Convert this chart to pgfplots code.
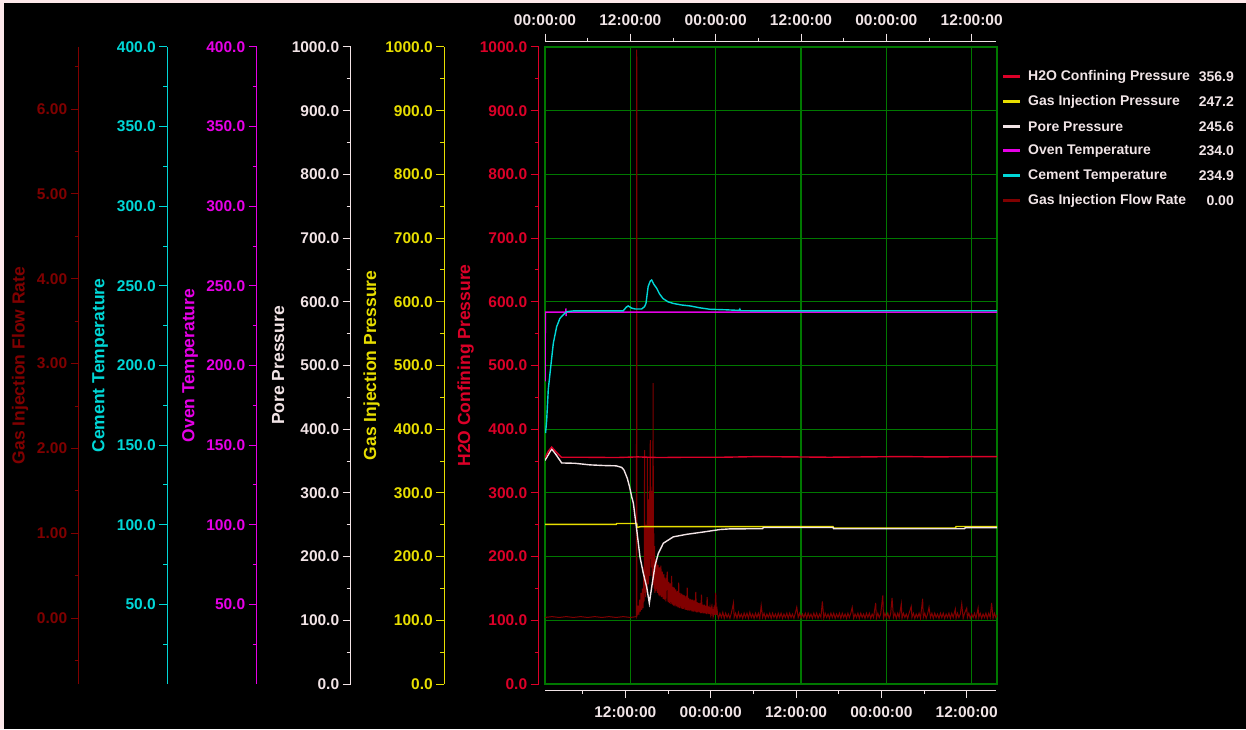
\documentclass[border=0pt]{standalone}
\usepackage{fontspec}
\setmainfont{Liberation Sans}
\usepackage{pgfplots}
\pgfplotsset{compat=1.18}
\definecolor{bgpink}{RGB}{253,232,234}
\definecolor{gridgreen}{RGB}{0,120,0}
\definecolor{flowc}{RGB}{128,0,0}
\definecolor{cementc}{RGB}{0,215,215}
\definecolor{ovenc}{RGB}{230,0,230}
\definecolor{porec}{RGB}{242,228,230}
\definecolor{gasc}{RGB}{232,222,0}
\definecolor{h2oc}{RGB}{220,0,40}
\definecolor{txtc}{RGB}{240,228,230}
\newcommand{\tickfont}{\fontsize{15.5}{18}\selectfont\bfseries}
\newcommand{\labfont}{\fontsize{17.5}{20}\selectfont\bfseries}
\newcommand{\legfont}{\fontsize{14}{16}\selectfont\bfseries}
\pgfplotsset{
  leftax/.style n args={3}{
    scale only axis, width=20pt, height=637pt, at={(#1,45pt)}, anchor=south west,
    xmin=0, xmax=1,
    axis x line=none, axis y line=left,
    axis line style={-, draw=#2, line width=1pt},
    tick align=outside, major tick length=8pt, minor tick length=4pt,
    tick style={draw=#2, line width=1pt},
    yticklabel style={text=#2, font=\tickfont},
    every axis y label/.style={at={([xshift=#3]rel axis cs:0,0.5)}, rotate=90, anchor=center, font=\labfont, text=#2},
  },
  serax/.style={scale only axis, width=452pt, height=637pt, at={(545pt,45pt)}, anchor=south west,
    xmin=0, xmax=63.56, hide axis, clip=true},
}
\begin{document}
\begin{tikzpicture}
\useasboundingbox (0,0) rectangle (1246pt,729pt);
\fill[bgpink] (0,0) rectangle (1246pt,729pt);
\fill[black] (4pt,0) rectangle (1246pt,726pt);

% ---- left scales ----
\begin{axis}[leftax={78.7pt}{flowc}{-58.7pt}, ymin=-0.774, ymax=6.731,
  ytick={0,1,2,3,4,5,6}, yticklabels={0.00,1.00,2.00,3.00,4.00,5.00,6.00},
  minor ytick={-0.5,0.5,1.5,2.5,3.5,4.5,5.5,6.5}, ylabel={Gas Injection Flow Rate}]
\end{axis}
\begin{axis}[leftax={167.3pt}{cementc}{-67.3pt}, ymin=0, ymax=400,
  ytick={50,100,...,400}, yticklabels={50.0,100.0,150.0,200.0,250.0,300.0,350.0,400.0},
  minor ytick={25,75,...,375}, ylabel={Cement Temperature}]
\end{axis}
\begin{axis}[leftax={256.7pt}{ovenc}{-66.7pt}, ymin=0, ymax=400,
  ytick={50,100,...,400}, yticklabels={50.0,100.0,150.0,200.0,250.0,300.0,350.0,400.0},
  minor ytick={25,75,...,375}, ylabel={Oven Temperature}]
\end{axis}
\begin{axis}[leftax={350.7pt}{porec}{-72.4pt}, ymin=0, ymax=1000,
  ytick={0,100,...,1000}, yticklabels={0.0,100.0,200.0,300.0,400.0,500.0,600.0,700.0,800.0,900.0,1000.0},
  minor ytick={50,150,...,950}, ylabel={Pore Pressure}]
\end{axis}
\begin{axis}[leftax={444.3pt}{gasc}{-72.6pt}, ymin=0, ymax=1000,
  ytick={0,100,...,1000}, yticklabels={0.0,100.0,200.0,300.0,400.0,500.0,600.0,700.0,800.0,900.0,1000.0},
  minor ytick={50,150,...,950}, ylabel={Gas Injection Pressure}]
\end{axis}
\begin{axis}[leftax={538.7pt}{h2oc}{-73pt}, ymin=0, ymax=1000,
  ytick={0,100,...,1000}, yticklabels={0.0,100.0,200.0,300.0,400.0,500.0,600.0,700.0,800.0,900.0,1000.0},
  minor ytick={50,150,...,950}, ylabel={H2O Confining Pressure}]
\end{axis}

% ---- time axes ----
\begin{axis}[scale only axis, width=451pt, height=1pt, at={(545pt,687.3pt)}, anchor=north west,
  xmin=0, xmax=63.42, ymin=0, ymax=1, axis y line=none, axis x line=top,
  axis line style={-, draw=txtc, line width=1pt},
  tick align=outside, major tick length=8pt, minor tick length=4pt,
  tick style={draw=txtc, line width=1pt},
  xtick={0,12,24,36,48,60}, minor xtick={6,18,30,42,54},
  xticklabels={00:00:00,12:00:00,00:00:00,12:00:00,00:00:00,12:00:00},
  xticklabel style={text=txtc, font=\tickfont, yshift=5pt}]
\end{axis}
\begin{axis}[scale only axis, width=451pt, height=1pt, at={(545pt,39pt)}, anchor=south west,
  xmin=0.703, xmax=64.12, ymin=0, ymax=1, axis y line=none, axis x line=bottom,
  axis line style={-, draw=txtc, line width=1pt},
  tick align=outside, major tick length=8pt, minor tick length=4pt,
  tick style={draw=txtc, line width=1pt},
  xtick={12,24,36,48,60}, minor xtick={6,18,30,42,54},
  xticklabels={12:00:00,00:00:00,12:00:00,00:00:00,12:00:00},
  xticklabel style={text=txtc, font=\tickfont, yshift=-5pt}]
\end{axis}

% ---- main grid ----
\begin{axis}[scale only axis, width=452pt, height=637pt, at={(545pt,45pt)}, anchor=south west,
  xmin=0, xmax=63.56, ymin=0, ymax=1000,
  xtick={12,24,36,48,60}, ytick={100,200,...,900}, xticklabels={}, yticklabels={},
  major tick length=0pt, grid=major, grid style={draw=gridgreen, line width=1.1pt},
  axis line style={draw=gridgreen, line width=1.1pt}]
\end{axis}

% ---- flow rate ----
\begin{axis}[serax, ymin=-0.774, ymax=6.731]
\addplot[flowc, line width=1pt] coordinates {
(0,0.01)(1,0.02)(2,0.01)(3,0.02)(4,0.01)(5,0.02)(6,0.01)(7,0.02)(8,0.01)(9,0.02)(10,0.01)(11,0.02)(12,0.01)(12.85,0.02)
(12.9,6.70)(12.93,0.03)
(13.0,0.05)(13.1,0.15)(13.2,0.04)(13.3,0.22)(13.4,0.08)(13.5,0.30)(13.6,0.10)(13.7,0.35)(13.8,0.12)
(13.9,0.6)(13.95,0.2)(14.0,1.98)(14.05,0.3)(14.1,0.9)(14.15,0.25)(14.2,1.1)(14.25,0.4)(14.3,1.0)(14.35,0.3)
(14.4,1.89)(14.45,0.5)(14.5,1.2)(14.55,0.4)(14.6,1.4)(14.65,0.6)(14.7,1.5)(14.75,0.5)(14.8,2.10)(14.85,0.7)
(14.9,1.55)(14.95,0.6)(15.0,1.5)(15.05,0.5)(15.1,1.3)(15.15,0.45)(15.2,2.77)(15.25,0.4)(15.3,1.0)(15.35,0.35)
(15.4,0.85)(15.45,0.3)
(15.5,0.70)(15.6,0.32)(15.7,0.68)(15.8,0.30)(15.9,0.63)(16.0,0.27)(16.1,0.60)(16.2,0.26)(16.3,0.62)(16.4,0.25)
(16.5,0.55)(16.6,0.23)(16.7,0.52)(16.8,0.22)(16.9,0.48)(17.0,0.20)(17.1,0.46)(17.2,0.55)(17.3,0.19)(17.4,0.43)
(17.5,0.18)(17.6,0.41)(17.7,0.17)(17.8,0.50)(17.9,0.16)(18.0,0.37)(18.1,0.15)(18.2,0.36)(18.3,0.14)(18.4,0.34)
(18.5,0.14)(18.6,0.32)(18.7,0.13)(18.8,0.42)(18.9,0.12)(19.0,0.30)(19.1,0.12)(19.2,0.29)(19.3,0.11)(19.4,0.28)
(19.5,0.11)(19.6,0.27)(19.7,0.10)(19.8,0.26)(19.9,0.10)(20.0,0.36)(20.1,0.09)(20.2,0.24)(20.3,0.09)(20.4,0.23)
(20.5,0.09)(20.6,0.22)(20.7,0.08)(20.8,0.22)(20.9,0.08)(21.0,0.21)(21.1,0.08)(21.2,0.31)(21.3,0.07)(21.4,0.19)
(21.5,0.07)(21.6,0.18)(21.7,0.07)(21.8,0.18)(21.9,0.06)(22.0,0.28)(22.1,0.06)(22.2,0.16)(22.3,0.06)(22.4,0.16)
(22.5,0.06)(22.6,0.15)(22.7,0.05)(22.8,0.25)(22.9,0.05)(23.0,0.14)(23.1,0.05)(23.2,0.13)(23.3,0.05)(23.4,0.12)
(23.5,0.04)(23.6,0.12)(23.7,0.04)(23.8,0.11)(23.9,0.04)(24.0,0.30)(24.1,0.04)(24.2,0.10)(24.3,0.03)
(24.4,0.00)(24.6,0.06)(24.8,0.01)(25.0,0.07)(25.2,0.00)(25.4,0.06)(25.6,0.01)(25.8,0.05)(26.0,0.00)(26.2,0.06)
(26.5,0.18)(26.6,0.01)(26.8,0.06)(27.0,0.00)(27.2,0.07)(27.4,0.01)(27.6,0.05)(27.8,0.00)(28.0,0.06)(28.2,0.01)
(28.4,0.06)(28.6,0.00)(28.8,0.07)(29.0,0.01)(29.2,0.05)(29.4,0.00)(29.6,0.06)(29.8,0.01)(30.0,0.06)(30.2,0.00)
(30.4,0.15)(30.6,0.01)(30.8,0.06)(31.0,0.00)(31.2,0.05)(31.4,0.01)(31.6,0.06)(31.8,0.00)(32.0,0.06)(32.2,0.01)
(32.4,0.05)(32.6,0.00)(32.8,0.06)(33.0,0.01)(33.2,0.06)(33.4,0.00)(33.6,0.05)(33.8,0.01)(34.0,0.06)(34.2,0.00)
(34.4,0.06)(34.6,0.01)(34.8,0.05)(35.0,0.00)(35.2,0.06)(35.4,0.13)(35.6,0.01)(35.8,0.06)(36.0,0.00)(36.2,0.05)
(36.4,0.01)(36.6,0.06)(36.8,0.00)(37.0,0.06)(37.2,0.01)(37.4,0.05)(37.6,0.00)(37.8,0.06)(38.0,0.01)(38.2,0.06)
(38.4,0.00)(38.6,0.05)(38.8,0.01)(39.0,0.20)(39.2,0.00)(39.4,0.06)(39.6,0.01)(39.8,0.05)(40.0,0.00)(40.2,0.06)
(40.4,0.01)(40.6,0.06)(40.8,0.00)(41.0,0.05)(41.2,0.01)(41.4,0.06)(41.6,0.00)(41.8,0.06)(42.0,0.01)(42.2,0.05)
(42.4,0.00)(42.6,0.06)(42.8,0.01)(43.0,0.06)(43.2,0.13)(43.4,0.00)(43.6,0.05)(43.8,0.01)(44.0,0.06)(44.2,0.00)
(44.4,0.06)(44.6,0.01)(44.8,0.05)(45.0,0.00)(45.2,0.06)(45.4,0.01)(45.6,0.06)(45.8,0.00)(46.0,0.05)(46.2,0.01)
(46.5,0.18)(46.6,0.00)(46.8,0.06)(47.0,0.01)(47.2,0.05)(47.5,0.27)(47.6,0.00)(47.8,0.06)(48.0,0.01)(48.2,0.06)
(48.4,0.00)(48.6,0.05)(48.8,0.24)(49.0,0.01)(49.2,0.06)(49.4,0.00)(49.6,0.06)(49.8,0.01)(50.1,0.17)(50.2,0.00)
(50.4,0.06)(50.6,0.01)(50.8,0.05)(51.0,0.00)(51.2,0.06)(51.5,0.14)(51.6,0.01)(51.8,0.06)(52.0,0.00)(52.2,0.05)
(52.4,0.01)(52.6,0.06)(52.8,0.00)(53.1,0.23)(53.2,0.01)(53.4,0.06)(53.6,0.00)(53.8,0.05)(54.0,0.13)(54.2,0.01)
(54.4,0.06)(54.6,0.00)(54.8,0.06)(55.0,0.01)(55.2,0.05)(55.4,0.00)(55.6,0.06)(55.8,0.01)(56.0,0.06)(56.2,0.00)
(56.4,0.05)(56.6,0.01)(56.8,0.06)(57.0,0.00)(57.2,0.06)(57.4,0.01)(57.7,0.11)(57.8,0.00)(58.0,0.06)(58.2,0.01)
(58.4,0.05)(58.6,0.17)(58.8,0.00)(59.0,0.06)(59.3,0.12)(59.4,0.01)(59.6,0.06)(59.8,0.00)(60.0,0.05)(60.2,0.01)
(60.4,0.06)(60.6,0.00)(60.9,0.12)(61.0,0.01)(61.2,0.06)(61.4,0.00)(61.6,0.05)(61.8,0.01)(62.0,0.06)(62.2,0.00)
(62.4,0.06)(62.6,0.01)(62.8,0.18)(63.0,0.00)(63.2,0.06)(63.4,0.01)(63.56,0.04)
};
\end{axis}

% ---- temperatures ----
\begin{axis}[serax, ymin=0, ymax=400]
\addplot[ovenc, line width=1.4pt] coordinates {
(0.02,190)(0.05,233.5)(2.90,233.5)(2.95,235.8)(2.97,231)(3.0,233.5)(63.56,233.5)
};
\addplot[cementc, line width=1.4pt] coordinates {
(0.08,157.6)(0.24,166)(0.46,185)(0.80,199)(1.17,214)(1.64,224.4)(2.1,229.6)(2.6,232)(3.05,233.8)(4,234.3)
(11.0,234.3)(11.4,236.5)(11.7,237.4)(12.2,236.0)(12.66,235.5)(13.6,235.5)(14.0,237)(14.2,239)(14.5,249.5)
(14.8,253)(15.0,253.7)(15.3,251)(15.7,248.5)(16.1,245)(16.6,242)(17.3,240)(18.0,239)(19.2,238)(20.4,237.4)
(21.8,236.2)(23.2,235.3)(25.3,235)(27.3,234.6)(27.4,235.4)(27.5,234.4)(30,234.3)(63.56,234.4)
};
\end{axis}

% ---- pressures ----
\begin{axis}[serax, ymin=0, ymax=1000]
\addplot[gasc, line width=1.4pt] coordinates {
(0,250.5)(10,250.5)(10.1,252)(12.9,252)(12.95,246)(13.5,247)(40.5,247)(40.6,244.6)(57.7,244.6)(57.8,247.2)(63.56,247.2)
};
\addplot[porec, line width=1.4pt] coordinates {
(0,351)(0.94,369)(1.55,360)(2.35,347)(4.2,346.5)(6.3,344)(8.2,343)(10.0,342.5)(10.79,340)(11.1,336)(11.57,323)
(11.88,310)(12.19,294)(12.42,284)(12.90,242)(13.36,199)(13.82,174)(14.30,152)(14.67,127)(15.0,152)(15.47,186)
(15.93,205)(16.64,221)(18.04,231)(19.93,235)(22.26,238.6)(24.6,242.5)(26.0,243.5)(30.6,243.8)(30.7,245.7)
(40.5,245.7)(40.6,243.8)(59.0,243.8)(59.1,245.6)(63.56,245.6)
};
\addplot[h2oc, line width=1.4pt] coordinates {
(0,355)(0.5,366)(0.94,372)(1.5,365)(2.3,356)(5,356)(10,355.5)(13,356.5)(16,355.5)(20,356)(25,356)(30,357)
(35,356.5)(40,356)(45,356.5)(50,357)(55,356.5)(60,357)(63.56,356.9)
};
\end{axis}

% ---- legend ----
\foreach \c/\t/\v/\y in {h2oc/H2O Confining Pressure/356.9/652.3, gasc/Gas Injection Pressure/247.2/627.3,
  porec/Pore Pressure/245.6/602.3, ovenc/Oven Temperature/234.0/578.3,
  cementc/Cement Temperature/234.9/553, flowc/Gas Injection Flow Rate/0.00/528} {
  \draw[\c, line width=3pt] (1003pt,\y pt) -- (1019.5pt,\y pt);
  \node[anchor=west, text=txtc, font=\legfont, inner sep=0pt] at (1028pt,\y pt) {\t};
  \node[anchor=east, text=txtc, font=\legfont, inner sep=0pt] at (1234pt,\y pt) {\v};
}
\end{tikzpicture}
\end{document}
